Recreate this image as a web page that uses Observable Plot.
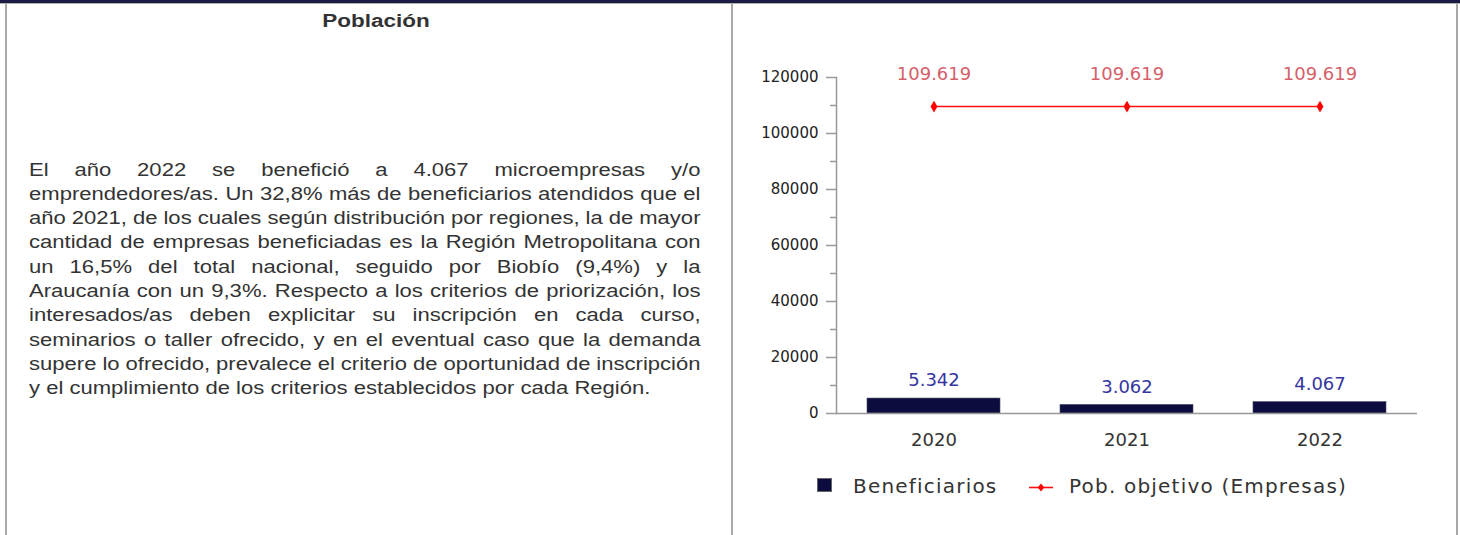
<!DOCTYPE html>
<html><head><meta charset="utf-8">
<script src="https://cdn.jsdelivr.net/npm/d3@7"></script>
<script src="https://cdn.jsdelivr.net/npm/@observablehq/plot@0.6"></script>
<style>
html,body{margin:0;padding:0;background:#fff;}
body{width:1460px;height:535px;overflow:hidden;position:relative;font-family:"Liberation Sans",Arial,sans-serif;color:#333;}
.abs{position:absolute;}
#topbar{left:0;top:0;width:1460px;height:3px;background:#1b1b44;border-bottom:1px solid #b0b0b0;}
.vb{top:4px;width:2px;height:531px;background:#a9a9a9;}
#title{left:275.5px;top:11.5px;width:200px;text-align:center;font-weight:bold;font-size:18px;line-height:18px;transform:scaleX(1.25);transform-origin:center;color:#333;white-space:nowrap;}
#para{left:29.3px;top:157.5px;width:533px;transform:scaleX(1.26);transform-origin:left top;font-size:17.5px;color:#333;}
.ln{height:24.3px;line-height:24.3px;white-space:nowrap;}
.jl{display:flex;justify-content:space-between;}
#chart{left:736px;top:40px;}
.lg{font-family:"DejaVu Sans";font-size:20px;line-height:20px;letter-spacing:1.2px;color:#333;white-space:nowrap;top:475.8px;}
</style></head><body>
<div id="topbar" class="abs"></div>
<div class="abs vb" style="left:5px"></div>
<div class="abs vb" style="left:731px"></div>
<div class="abs vb" style="left:1456px"></div>
<div id="title" class="abs"></div>
<div id="para" class="abs"></div>
<div id="chart" class="abs"></div>
<div id="legend"></div>
<script>
const years = ["2020", "2021", "2022"];
const beneficiarios = [5342, 3062, 4067];
const beneficiariosLabels = ["5.342", "3.062", "4.067"];
const poblacionObjetivo = [109619, 109619, 109619];
const poblacionLabels = ["109.619", "109.619", "109.619"];
const yTicks = [0, 20000, 40000, 60000, 80000, 100000, 120000];
const yMinorTicks = [10000, 30000, 50000, 70000, 90000, 110000];
const seriesNames = ["Beneficiarios", "Pob. objetivo (Empresas)"];
const titleText = "Población";
const paragraphLines = [
  "El año 2022 se benefició a 4.067 microempresas y/o",
  "emprendedores/as. Un 32,8% más de beneficiarios atendidos que el",
  "año 2021, de los cuales según distribución por regiones, la de mayor",
  "cantidad de empresas beneficiadas es la Región Metropolitana con",
  "un 16,5% del total nacional, seguido por Biobío (9,4%) y la",
  "Araucanía con un 9,3%. Respecto a los criterios de priorización, los",
  "interesados/as deben explicitar su inscripción en cada curso,",
  "seminarios o taller ofrecido, y en el eventual caso que la demanda",
  "supere lo ofrecido, prevalece el criterio de oportunidad de inscripción",
  "y el cumplimiento de los criterios establecidos por cada Región."
];

document.getElementById("title").textContent = titleText;
const para = document.getElementById("para");
paragraphLines.forEach((line, i) => {
  const d = document.createElement("div");
  d.className = "ln";
  if (i < paragraphLines.length - 1) {
    d.classList.add("jl");
    line.split(" ").forEach(w => {
      const s = document.createElement("span");
      s.textContent = w;
      d.appendChild(s);
    });
  } else {
    d.textContent = line;
  }
  para.appendChild(d);
});

const data = years.map((y, i) => ({
  year: y,
  benef: beneficiarios[i],
  benefLabel: beneficiariosLabels[i],
  pob: poblacionObjetivo[i],
  pobLabel: poblacionLabels[i]
}));

const chart = Plot.plot({
  width: 720,
  height: 430,
  marginLeft: 100,
  marginRight: 39,
  marginTop: 37,
  marginBottom: 57,
  style: {fontFamily: "DejaVu Sans", background: "transparent", overflow: "visible"},
  x: {type: "band", domain: years, paddingInner: 0.31, paddingOuter: 0.155, axis: null},
  y: {domain: [0, 120000], axis: null},
  marks: [
    Plot.axisY(yMinorTicks, {tickSize: 6, tickFormat: () => "", stroke: "#999", strokeWidth: 1.5, label: null}),
    Plot.axisY(yTicks, {tickSize: 10, tickPadding: 8, tickFormat: d => String(d), fontSize: 15, fill: "#222", stroke: "#999", strokeWidth: 1.5, label: null}),
    Plot.axisX(years, {tickSize: 0, tickPadding: 20, fontSize: 18, fill: "#333", label: null}),
    Plot.barY(data, {x: "year", y: "benef", fill: "#0c0c3e", stroke: "#4a4a66", strokeWidth: 0.6}),
    Plot.ruleY([0], {stroke: "#999", strokeWidth: 1.5}),
    Plot.frame({anchor: "left", stroke: "#999", strokeWidth: 1.5}),
    Plot.lineY(data, {x: "year", y: "pob", stroke: "#ff1010", strokeWidth: 1.6}),
    Plot.dot(data, {x: "year", y: "pob", symbol: "diamond", r: 3.6, fill: "#ff0000"}),
    Plot.text(data, {x: "year", y: "pob", text: "pobLabel", dy: -32, fill: "#d5606a", fontSize: 18}),
    Plot.text(data, {x: "year", y: "benef", text: "benefLabel", dy: -18, fill: "#3535a0", fontSize: 18})
  ]
});
document.getElementById("chart").appendChild(chart);

// legend
const legend = document.getElementById("legend");
legend.innerHTML =
  `<div class="abs" style="left:817px;top:478px;width:15px;height:14px;box-sizing:border-box;background:#0c0c3e;border:1px solid #666;"></div>` +
  `<div class="abs lg" style="left:853px">${seriesNames[0]}</div>` +
  `<svg class="abs" style="left:1026px;top:480px" width="30" height="15"><line x1="3" x2="27" y1="7.5" y2="7.5" stroke="#ff1010" stroke-width="1.6"/><path d="M15,3.5L18.2,7.5L15,11.5L11.8,7.5Z" fill="#ff0000"/></svg>` +
  `<div class="abs lg" style="left:1069px">${seriesNames[1]}</div>`;
</script>
</body></html>
